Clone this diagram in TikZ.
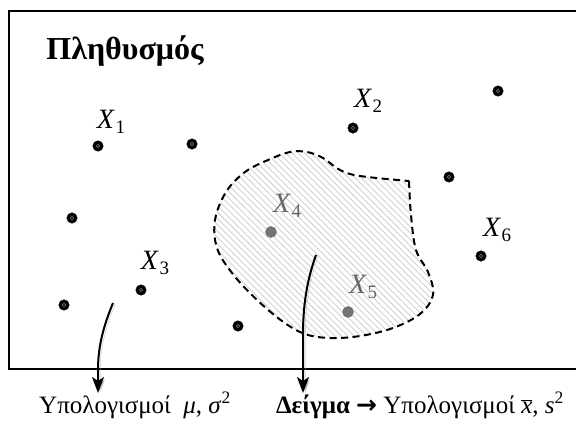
\documentclass[tikz,border=0pt]{standalone}
\usepackage{fontspec}
\setmainfont{Liberation Serif}
\newfontfamily\arrowfont{DejaVu Sans}
\usetikzlibrary{arrows.meta,patterns.meta}
% outline of the sample
\def\samplepts{(409,181) (411,215) (416,250) (428,272) (433,295) (420,314) (393,328) (360,336) (330,338) (305,334) (282,321) (255,298) (232,273) (217,248) (215,220) (226,192) (245,172) (268,160) (290,152) (307,152) (323,158) (340,170) (360,176) (409,181)}
\newcommand{\xsub}[1]{\textit{X}\kern0.5pt\raisebox{-0.2em}{\fontsize{19}{20}\selectfont #1}}
\begin{document}
\begin{tikzpicture}[x=1pt,y=-1pt,
  popdot/.style={circle,fill=black,draw=black,inner sep=0pt,minimum size=10.5pt,
    path picture={\draw[gray!60,line width=0.4pt] (path picture bounding box.center) circle (1.6pt);}},
  sampdot/.style={circle,fill=black!55,draw=black!60,inner sep=0pt,minimum size=11pt},
  xlab/.style={font=\fontsize{28}{30}\selectfont,inner sep=0pt},
  reach/.style={line width=2pt,-{Stealth[length=16pt,width=12pt,inset=4pt]},
    preaction={draw=gray!50,transform canvas={xshift=2.2pt,yshift=-1pt}}},
  outcome/.style={font=\fontsize{25}{28}\selectfont,anchor=base,inner sep=0pt}]
\useasboundingbox (0,0) rectangle (576,421);
\fill[white] (0,0) rectangle (576,421);
% population frame
\draw[line width=2.2pt] (585,11) -- (9,11) -- (9,369) -- (585,369);
\node[font=\bfseries\fontsize{32}{34}\selectfont] (pop) at (125,51) {Πληθυσμός};
% sample region
\path[pattern={Lines[angle=-45,distance=4.5pt,line width=0.9pt]},pattern color=gray!35]
  plot[smooth,tension=0.6] coordinates {\samplepts} -- cycle;
\draw[line width=2pt,dash pattern=on 7pt off 4.5pt]
  plot[smooth,tension=0.6] coordinates {\samplepts};
% population points
\node[popdot] (d1) at (98,146) {};
\node[popdot] (d2) at (192,144) {};
\node[popdot] (d3) at (353,128) {};
\node[popdot] (d4) at (498,91) {};
\node[popdot] (d5) at (449,177) {};
\node[popdot] (d6) at (72,218) {};
\node[popdot] (d7) at (141,290) {};
\node[popdot] (d8) at (64,305) {};
\node[popdot] (d9) at (238,326) {};
\node[popdot] (d10) at (481,256) {};
\node[sampdot] (s4) at (271,232) {};
\node[sampdot] (s5) at (348,312) {};
% labels
\node[xlab] (x1) at (111,122) {\xsub{1}};
\node[xlab] (x2) at (368,101) {\xsub{2}};
\node[xlab] (x3) at (155,263) {\xsub{3}};
\node[xlab,text=black!60] (x4) at (287,206) {\xsub{4}};
\node[xlab,text=black!60] (x5) at (363,287) {\xsub{5}};
\node[xlab] (x6) at (497,230) {\xsub{6}};
% outcomes
\node[outcome] (calcpop) at (135,413) {Υπολογισμοί\ \ \textit{μ}, \textit{σ}\textsuperscript{2}};
\node[outcome] (calcsamp) at (420,413) {\textbf{Δείγμα} {\arrowfont\bfseries →} Υπολογισμοί \(\overline{\mbox{\textit{x}}}\), \textit{s}\textsuperscript{2}};
% arrows
\coordinate (popstart) at (113,303);
\coordinate (poptip) at (98,393);
\coordinate (sampstart) at (316,255);
\coordinate (samptip) at (303,393);
\draw[reach] (popstart) .. controls (104,325) and (98,345) .. (98,370) -- (poptip);
\draw[reach] (sampstart) .. controls (307,280) and (303,305) .. (303,335) -- (samptip);
\end{tikzpicture}
\end{document}
